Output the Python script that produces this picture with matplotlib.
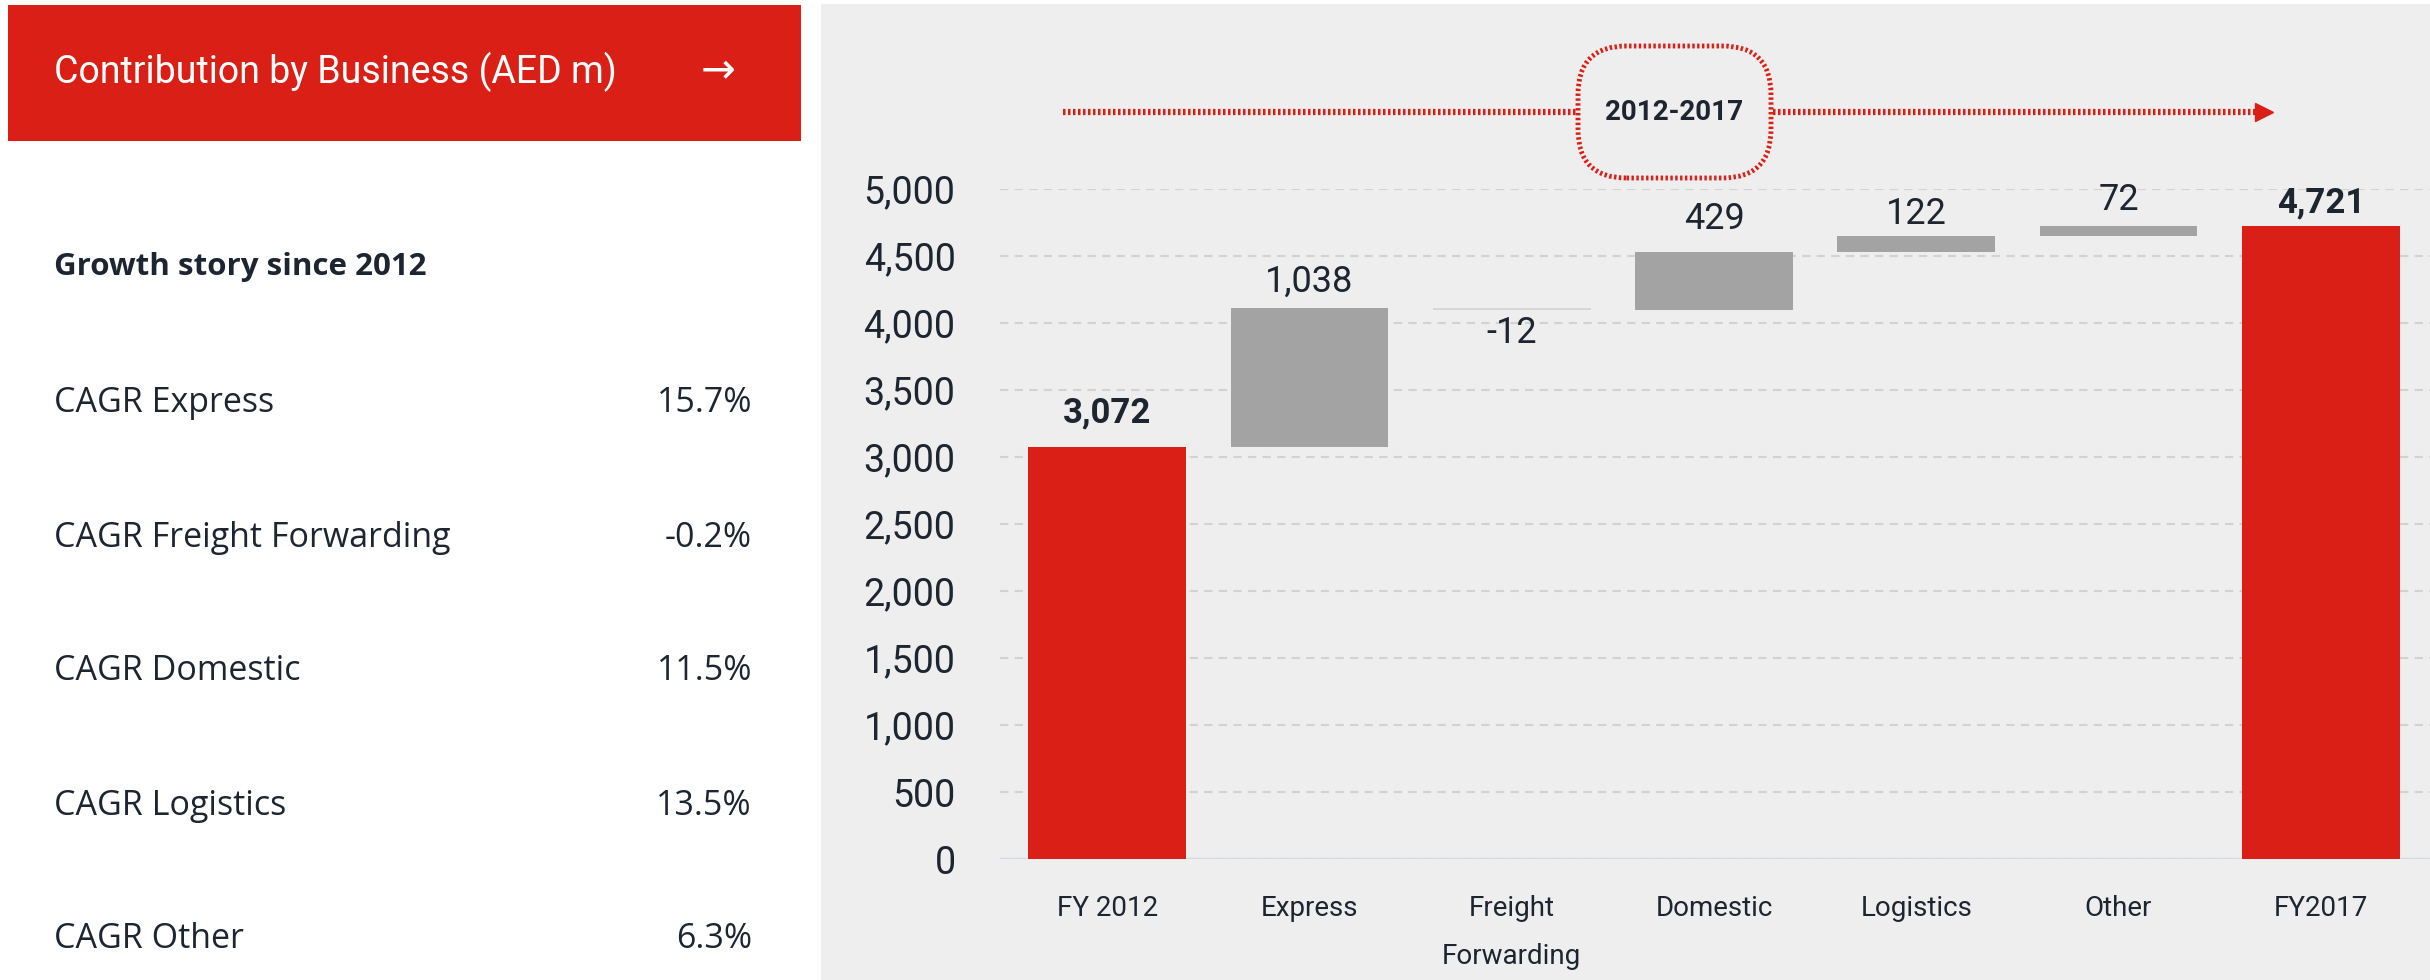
import matplotlib
matplotlib.use("Agg")
import matplotlib.pyplot as plt
from matplotlib.patches import Rectangle, FancyBboxPatch
from matplotlib.lines import Line2D

# chart data
categories = ["FY 2012", "Express", "Freight\nForwarding", "Domestic", "Logistics", "Other", "FY2017"]
start_value = 3072
changes = [1038, -12, 429, 122, 72]
end_value = 4721
change_labels = ["1,038", "-12", "429", "122", "72"]

# left panel data
cagr_names = ["CAGR Express", "CAGR Freight Forwarding", "CAGR Domestic", "CAGR Logistics", "CAGR Other"]
cagr_values = ["15.7%", "-0.2%", "11.5%", "13.5%", "6.3%"]

RED = "#DA1F17"
GREY = "#A3A3A3"
TXT = "#1D2530"
W, H = 2430, 980

plt.rcParams["font.family"] = ["Roboto", "DejaVu Sans"]

fig = plt.figure(figsize=(W / 100, H / 100), dpi=100)
fig.patch.set_facecolor("white")


def fx(x):
    return x / W


def fy(y):
    return 1 - y / H


# grey panel behind the chart
fig.patches.append(Rectangle((fx(821), 0), 1 - fx(821), fy(4), transform=fig.transFigure,
                             facecolor="#EEEEEE", edgecolor="none", zorder=-2))

# red header box
fig.patches.append(Rectangle((fx(8), fy(141)), fx(801) - fx(8), fy(5) - fy(141),
                             transform=fig.transFigure, facecolor=RED, edgecolor="none", zorder=-1))
fig.text(fx(54), fy(72), "Contribution by Business (AED m)", color="white", fontsize=27,
         va="center", ha="left")
fig.text(fx(718), fy(70), "\u2192", color="white", fontsize=30, va="center", ha="center",
         family=["DejaVu Sans"])

# left text block
left_font = ["Open Sans", "DejaVu Sans"]
fig.text(fx(54), fy(267), "Growth story since 2012", color=TXT, fontsize=22.5, fontweight="bold",
         va="center", ha="left", family=left_font)
row_y = [403, 538, 671, 806, 939]
for name, val, y in zip(cagr_names, cagr_values, row_y):
    fig.text(fx(54), fy(y), name, color=TXT, fontsize=24.5, va="center", ha="left", family=left_font)
    fig.text(fx(752), fy(y), val, color=TXT, fontsize=24.5, va="center", ha="right", family=left_font)

# waterfall
ax = fig.add_axes([fx(1000), 121 / H, 1 - fx(1000), 670 / H])
ax.set_facecolor("none")

x = list(range(len(categories)))
bottoms = [0]
heights = [start_value]
running = start_value
for c in changes:
    if c >= 0:
        bottoms.append(running)
        heights.append(c)
    else:
        bottoms.append(running + c)
        heights.append(-c)
    running += c
bottoms.append(0)
heights.append(end_value)

colors = [RED] + [GREY if c >= 0 else "#D6D6D6" for c in changes] + [RED]
ax.bar(x, heights, bottom=bottoms, width=0.78, color=colors, zorder=3)

# value labels (offsets in points from the bar end, label centred)
label_offsets = [25, 19, -17, 24, 16, 19, 17]
ax.annotate("3,072", (x[0], start_value), xytext=(0, label_offsets[0]), textcoords="offset points",
            ha="center", va="center", fontsize=25, fontweight="bold", color=TXT)
running = start_value
for i, (c, lab) in enumerate(zip(changes, change_labels), start=1):
    running += c
    ax.annotate(lab, (i, running), xytext=(0, label_offsets[i]), textcoords="offset points",
                ha="center", va="center", fontsize=26, color=TXT)
ax.annotate("4,721", (x[-1], end_value), xytext=(0, label_offsets[-1]), textcoords="offset points",
            ha="center", va="center", fontsize=25, fontweight="bold", color=TXT)

ax.set_xlim(-0.53, 6.54)
ax.set_ylim(0, 5000)
ax.set_yticks(range(0, 5001, 500))
ax.set_yticklabels([f"{v:,}" for v in range(0, 5001, 500)])
ax.set_xticks(x)
ax.set_xticklabels(categories, linespacing=2.0)
ax.tick_params(axis="y", length=0, pad=32, labelsize=27, labelcolor=TXT)
ax.tick_params(axis="x", length=0, pad=26, labelsize=20, labelcolor=TXT)
for s in ax.spines.values():
    s.set_visible(False)
ax.yaxis.grid(True, color="#D2D2D2", linestyle=(0, (4, 3)), linewidth=1.5, zorder=0)
ax.axhline(0, color="#D3DCE6", linewidth=2.5, zorder=2)

# dotted arrow with the period box
fig.add_artist(Line2D([fx(1063), fx(2262)], [fy(112), fy(112)], color=RED, linewidth=4.5,
                      linestyle=(0, (0.4, 0.4)), transform=fig.transFigure, zorder=5))
fig.add_artist(Line2D([fx(2264)], [fy(112)], marker=">", markersize=13, color=RED,
                      transform=fig.transFigure, zorder=5))
box = FancyBboxPatch((fx(1578), fy(178)), fx(1771) - fx(1578), fy(46) - fy(178),
                     boxstyle="round,pad=0,rounding_size=0.02", transform=fig.transFigure,
                     facecolor="#EEEEEE", edgecolor=RED, linewidth=3.5,
                     linestyle=(0, (0.5, 0.5)), zorder=6, mutation_aspect=W / H)
fig.add_artist(box)
fig.text(fx(1674), fy(112), "2012-2017", color=TXT, fontsize=20, fontweight="bold",
         ha="center", va="center", zorder=7)

fig.savefig("out.png", dpi=100)
